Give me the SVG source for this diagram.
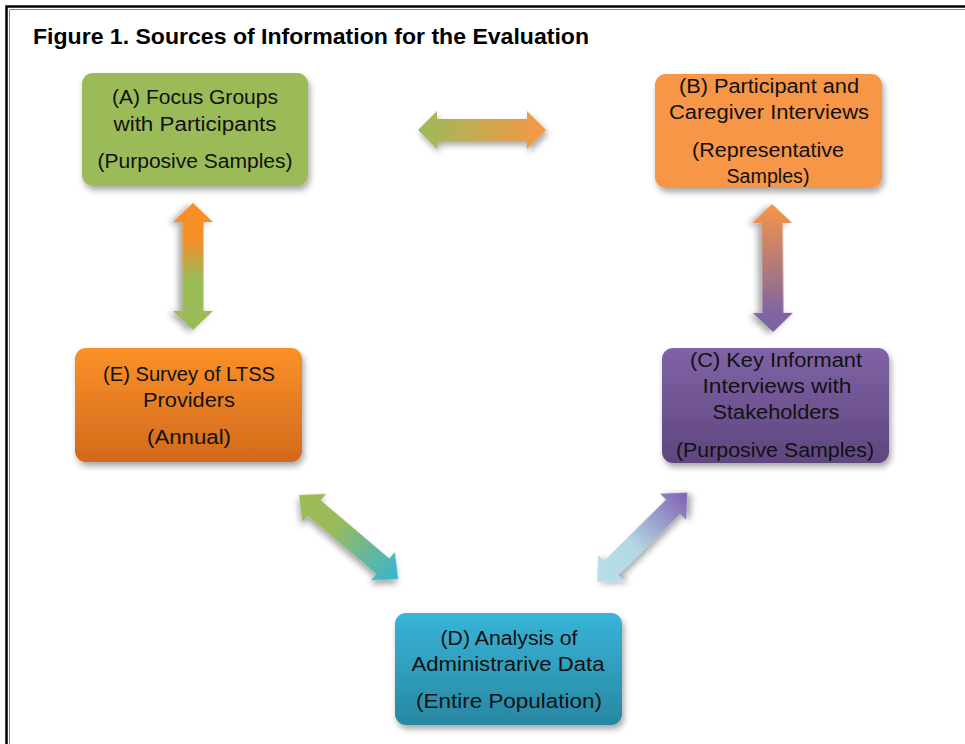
<svg xmlns="http://www.w3.org/2000/svg" width="965" height="744" viewBox="0 0 965 744">
  <style>
    .title { font-family: "Liberation Sans", Arial, sans-serif; font-weight: bold; font-size: 22px; fill: #000; }
    .lbl { font-family: "Liberation Sans", Arial, sans-serif; font-size: 20px; fill: #111; text-anchor: middle; }
    .box { filter: url(#shadow); }
    .arrow { filter: url(#shadow); }
  </style>
  <defs>
    <filter id="shadow" x="-20%" y="-20%" width="140%" height="150%">
      <feDropShadow dx="2" dy="4" stdDeviation="3" flood-color="#000" flood-opacity="0.35"/>
    </filter>
    <linearGradient id="gE" x1="0" y1="0" x2="0" y2="1">
      <stop offset="0" stop-color="#FB9128"/>
      <stop offset="1" stop-color="#D2691C"/>
    </linearGradient>
    <linearGradient id="gC" x1="0" y1="0" x2="0" y2="1">
      <stop offset="0" stop-color="#8063A6"/>
      <stop offset="1" stop-color="#5F467E"/>
    </linearGradient>
    <linearGradient id="gD" x1="0" y1="0" x2="0" y2="1">
      <stop offset="0" stop-color="#38B4D8"/>
      <stop offset="1" stop-color="#2887A2"/>
    </linearGradient>
    <!-- arrow gradients run along each arrow's local x axis -->
    <linearGradient id="aAB" x1="0" y1="0" x2="1" y2="0">
      <stop offset="0" stop-color="#9BBB59"/>
      <stop offset="1" stop-color="#F79646"/>
    </linearGradient>
    <linearGradient id="aAE" x1="0" y1="0" x2="1" y2="0">
      <stop offset="0" stop-color="#FA8E24"/>
      <stop offset="0.3" stop-color="#F28F2A"/>
      <stop offset="0.6" stop-color="#9BBB59"/>
      <stop offset="1" stop-color="#9BBB59"/>
    </linearGradient>
    <linearGradient id="aBC" x1="0" y1="0" x2="1" y2="0">
      <stop offset="0" stop-color="#F79646"/>
      <stop offset="0.85" stop-color="#8064A2"/>
      <stop offset="1" stop-color="#7E62A4"/>
    </linearGradient>
    <linearGradient id="aED" x1="0" y1="0" x2="1" y2="0">
      <stop offset="0" stop-color="#9BBB59"/>
      <stop offset="0.35" stop-color="#9BBB59"/>
      <stop offset="1" stop-color="#38B4D2"/>
    </linearGradient>
    <linearGradient id="aDC" x1="0" y1="0" x2="1" y2="0">
      <stop offset="0" stop-color="#B7DEE8"/>
      <stop offset="0.4" stop-color="#B3D8E6"/>
      <stop offset="1" stop-color="#7F60B0"/>
    </linearGradient>
  </defs>

  <rect width="965" height="744" fill="#fff"/>

  <!-- page frame -->
  <g id="frame" fill="none">
    <path d="M6.5,744 V6.5 H965" stroke="#000" stroke-width="2.5"/>
    <path d="M9.5,744 V9.5 H965" stroke="#888" stroke-width="1"/>
  </g>

  <text class="title" x="33" y="44" textLength="556" lengthAdjust="spacingAndGlyphs">Figure 1. Sources of Information for the Evaluation</text>

  <!-- connectors: double-headed block arrows -->
  <g id="connectors">
    <polygon class="arrow" fill="url(#aAB)" transform="translate(418,130)"
      points="0,0 19,-19 19,-11 109,-11 109,-19 128,0 109,19 109,11 19,11 19,19"/>
    <polygon class="arrow" fill="url(#aAE)" transform="translate(193,203) rotate(90)"
      points="0,0 19,-20 19,-10.5 108,-10.5 108,-20 127,0 108,20 108,10.5 19,10.5 19,20"/>
    <polygon class="arrow" fill="url(#aBC)" transform="translate(772,204) rotate(89.5)"
      points="0,0 19,-20 19,-10.5 109,-10.5 109,-20 128,0 109,20 109,10.5 19,10.5 19,20"/>
    <polygon class="arrow" fill="url(#aED)" transform="translate(299,495) rotate(40.3)"
      points="0,0 20,-18.5 20,-10 110,-10 110,-18.5 130,0 110,18.5 110,10 20,10 20,18.5"/>
    <polygon class="arrow" fill="url(#aDC)" transform="translate(597,582) rotate(-44.7)"
      points="0,0 20,-18.5 20,-10 107,-10 107,-18.5 127,0 107,18.5 107,10 20,10 20,18.5"/>
  </g>

  <g id="nodeA">
    <rect class="box" x="82" y="73" width="226" height="113" rx="11" fill="#9BBB59"/>
    <text class="lbl" x="195" y="104" textLength="166" lengthAdjust="spacingAndGlyphs">(A) Focus Groups</text>
    <text class="lbl" x="195" y="131" textLength="163" lengthAdjust="spacingAndGlyphs">with Participants</text>
    <text class="lbl" x="195" y="168" textLength="195" lengthAdjust="spacingAndGlyphs">(Purposive Samples)</text>
  </g>

  <g id="nodeB">
    <rect class="box" x="655" y="74" width="227" height="114" rx="11" fill="#F79646"/>
    <text class="lbl" x="769" y="93" textLength="180" lengthAdjust="spacingAndGlyphs">(B) Participant and</text>
    <text class="lbl" x="769" y="119" textLength="200" lengthAdjust="spacingAndGlyphs">Caregiver Interviews</text>
    <text class="lbl" x="768" y="157" textLength="152" lengthAdjust="spacingAndGlyphs">(Representative</text>
    <text class="lbl" x="768" y="183" textLength="83" lengthAdjust="spacingAndGlyphs">Samples)</text>
  </g>

  <g id="nodeC">
    <rect class="box" x="662" y="348" width="227" height="115" rx="11" fill="url(#gC)"/>
    <text class="lbl" x="776" y="367" textLength="172" lengthAdjust="spacingAndGlyphs">(C) Key Informant</text>
    <text class="lbl" x="777" y="393" textLength="149" lengthAdjust="spacingAndGlyphs">Interviews with</text>
    <text class="lbl" x="776" y="419" textLength="127" lengthAdjust="spacingAndGlyphs">Stakeholders</text>
    <text class="lbl" x="775" y="457" textLength="198" lengthAdjust="spacingAndGlyphs">(Purposive Samples)</text>
  </g>

  <g id="nodeD">
    <rect class="box" x="395" y="613" width="227" height="112" rx="11" fill="url(#gD)"/>
    <text class="lbl" x="509" y="645" textLength="137" lengthAdjust="spacingAndGlyphs">(D) Analysis of</text>
    <text class="lbl" x="508" y="671" textLength="193" lengthAdjust="spacingAndGlyphs">Administrarive Data</text>
    <text class="lbl" x="509" y="708" textLength="186" lengthAdjust="spacingAndGlyphs">(Entire Population)</text>
  </g>

  <g id="nodeE">
    <rect class="box" x="75" y="348" width="227" height="114" rx="11" fill="url(#gE)"/>
    <text class="lbl" x="189" y="381" textLength="172" lengthAdjust="spacingAndGlyphs">(E) Survey of LTSS</text>
    <text class="lbl" x="189" y="407" textLength="92" lengthAdjust="spacingAndGlyphs">Providers</text>
    <text class="lbl" x="189" y="444" textLength="84" lengthAdjust="spacingAndGlyphs">(Annual)</text>
  </g>
</svg>
